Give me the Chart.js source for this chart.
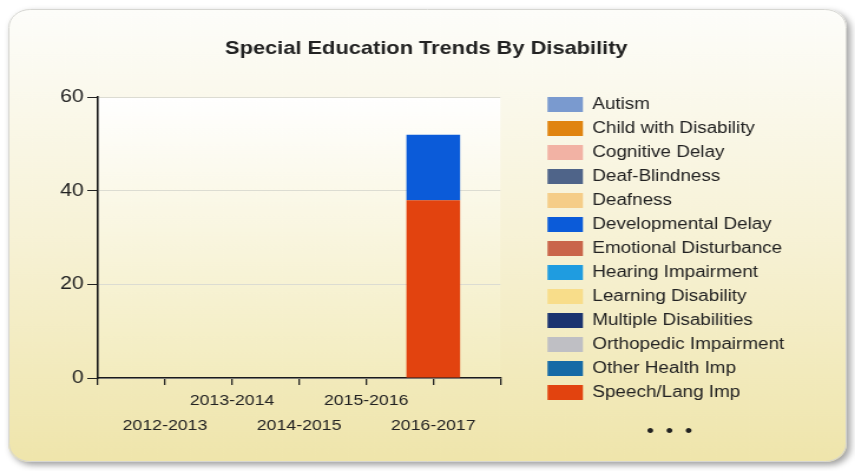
<!DOCTYPE html>
<html>
<head>
<meta charset="utf-8">
<script src="https://cdn.jsdelivr.net/npm/chart.js@4.4.1/dist/chart.umd.min.js"></script>
<style>
  html, body { margin: 0; padding: 0; background: #ffffff; overflow: hidden; }
  /* the chart is laid out at 725px and widened to fill the 855px panel */
  #frame { width: 725px; height: 471px; transform: scaleX(1.17931); transform-origin: 0 0; }
  canvas { display: block; }
</style>
</head>
<body>
<div id="frame"><canvas id="chart" width="725" height="471"></canvas></div>
<script>
// School years on the horizontal axis
const categories = ['2012-2013', '2013-2014', '2014-2015', '2015-2016', '2016-2017'];
// Value axis ticks
const yTicks = [0, 20, 40, 60];

// Students per disability category, one value per school year
const autism                = [0, 0, 0, 0, 0];
const childWithDisability   = [0, 0, 0, 0, 0];
const cognitiveDelay        = [0, 0, 0, 0, 0];
const deafBlindness         = [0, 0, 0, 0, 0];
const deafness              = [0, 0, 0, 0, 0];
const developmentalDelay    = [0, 0, 0, 0, 14];
const emotionalDisturbance  = [0, 0, 0, 0, 0];
const hearingImpairment     = [0, 0, 0, 0, 0];
const learningDisability    = [0, 0, 0, 0, 0];
const multipleDisabilities  = [0, 0, 0, 0, 0];
const orthopedicImpairment  = [0, 0, 0, 0, 0];
const otherHealthImp        = [0, 0, 0, 0, 0];
const speechLangImp         = [0, 0, 0, 0, 38];

const seriesNames = [
  'Autism', 'Child with Disability', 'Cognitive Delay', 'Deaf-Blindness', 'Deafness',
  'Developmental Delay', 'Emotional Disturbance', 'Hearing Impairment', 'Learning Disability',
  'Multiple Disabilities', 'Orthopedic Impairment', 'Other Health Imp', 'Speech/Lang Imp'
];
const seriesValues = [
  autism, childWithDisability, cognitiveDelay, deafBlindness, deafness,
  developmentalDelay, emotionalDisturbance, hearingImpairment, learningDisability,
  multipleDisabilities, orthopedicImpairment, otherHealthImp, speechLangImp
];
const seriesColors = [
  '#7a9acf', '#e08410', '#f2b2a4', '#4f6489', '#f5cd88',
  '#0b5bd9', '#c9654a', '#1f9ce0', '#f8dd8a',
  '#1b336f', '#bfbfc4', '#156aa6', '#e2430f'
];

// An empty slot at each end of the axis, so the years sit on inner ticks
const axisLabels = [''].concat(categories, ['']);

// Last series is drawn first so it sits at the bottom of each stack;
// the legend is reversed back to the listed order.
const datasets = seriesNames.map((name, i) => ({
  label: name,
  data: [null].concat(seriesValues[i], [null]),
  backgroundColor: seriesColors[i],
  borderWidth: 0
})).reverse();

const FONT = "'Liberation Sans', Arial, Helvetica, sans-serif";
Chart.defaults.font.family = FONT;
Chart.defaults.color = '#222222';

// Rounded panel with a soft drop shadow, plus the plot background wash
const panelPlugin = {
  id: 'panel',
  beforeDraw(chart) {
    const ctx = chart.ctx;
    const x = 7, y = 9, w = chart.width - 14, h = chart.height - 18;
    ctx.save();
    ctx.shadowColor = 'rgba(0,0,0,0.38)';
    ctx.shadowBlur = 6;
    ctx.shadowOffsetX = 3;
    ctx.shadowOffsetY = 3;
    const g = ctx.createLinearGradient(0, y, 0, y + h);
    g.addColorStop(0, '#fdfdfa');
    g.addColorStop(0.5, '#f7f2d6');
    g.addColorStop(1, '#efe5ab');
    ctx.fillStyle = g;
    ctx.beginPath();
    ctx.roundRect(x, y, w, h, 18);
    ctx.fill();
    ctx.restore();
    ctx.save();
    ctx.strokeStyle = '#d6d6d2';
    ctx.lineWidth = 1;
    ctx.beginPath();
    ctx.roundRect(x + 0.5, y + 0.5, w - 1, h - 1, 18);
    ctx.stroke();
    const a = chart.chartArea;
    const pg = ctx.createLinearGradient(0, a.top, 0, a.bottom);
    pg.addColorStop(0, '#ffffff');
    pg.addColorStop(1, '#f3ecbe');
    ctx.fillStyle = pg;
    ctx.fillRect(a.left, a.top, a.right - a.left, a.bottom - a.top);
    ctx.restore();
  },
  afterDraw(chart) {
    // "more entries" marker under the legend
    const lg = chart.legend;
    const boxes = lg.legendHitBoxes;
    const last = boxes[boxes.length - 1];
    const ctx = chart.ctx;
    ctx.save();
    ctx.fillStyle = '#222222';
    ctx.font = '18px ' + FONT;
    ctx.textAlign = 'center';
    ctx.textBaseline = 'middle';
    ctx.fillText('\u2022  \u2022  \u2022', lg.left + lg.width / 2 + 2, last.top + last.height + 32);
    ctx.restore();
  }
};

new Chart(document.getElementById('chart'), {
  type: 'bar',
  data: { labels: axisLabels, datasets: datasets },
  plugins: [panelPlugin],
  options: {
    responsive: false,
    animation: false,
    layout: { padding: { top: 36, bottom: 10, left: 48, right: 50 } },
    datasets: { bar: { barPercentage: 1, categoryPercentage: 0.8 } },
    plugins: {
      title: {
        display: true,
        text: 'Special Education Trends By Disability',
        color: '#222222',
        font: { size: 18.5, weight: 'bold' },
        padding: { top: 2, bottom: 37 }
      },
      legend: {
        position: 'right',
        align: 'center',
        reverse: true,
        maxWidth: 240,
        labels: {
          boxWidth: 30,
          boxHeight: 15,
          padding: 8,
          color: '#222222',
          font: { size: 16 }
        }
      },
      tooltip: { enabled: false }
    },
    scales: {
      x: {
        stacked: true,
        offset: false,
        grid: {
          offset: false,
          drawOnChartArea: false,
          tickLength: 7,
          tickColor: '#222222',
          lineWidth: 1.3
        },
        border: { color: '#1a1a1a', width: 1.6 },
        ticks: {
          autoSkip: false,
          maxRotation: 0,
          minRotation: 0,
          padding: 3,
          color: '#222222',
          font: { size: 15, lineHeight: '25px' },
          callback(value, index) {
            const label = this.getLabelForValue(value);
            if (!label) return '';
            // alternate the years between two rows
            return index % 2 === 1 ? ['', label] : [label, ''];
          }
        },
        afterFit(scale) { scale.height = 83; }
      },
      y: {
        stacked: true,
        min: yTicks[0],
        max: yTicks[yTicks.length - 1],
        grid: {
          color: '#dcdcd2',
          tickColor: '#222222',
          tickLength: 9,
          lineWidth: 1
        },
        border: { color: '#1a1a1a', width: 1.6 },
        ticks: {
          stepSize: yTicks[1] - yTicks[0],
          padding: 3,
          color: '#222222',
          font: { size: 18 }
        }
      },
      gap: {
        type: 'linear',
        position: 'right',
        display: true,
        grid: { display: false },
        border: { display: false },
        ticks: { display: false },
        afterFit(scale) { scale.width = 32; }
      }
    }
  }
});
</script>
</body>
</html>
